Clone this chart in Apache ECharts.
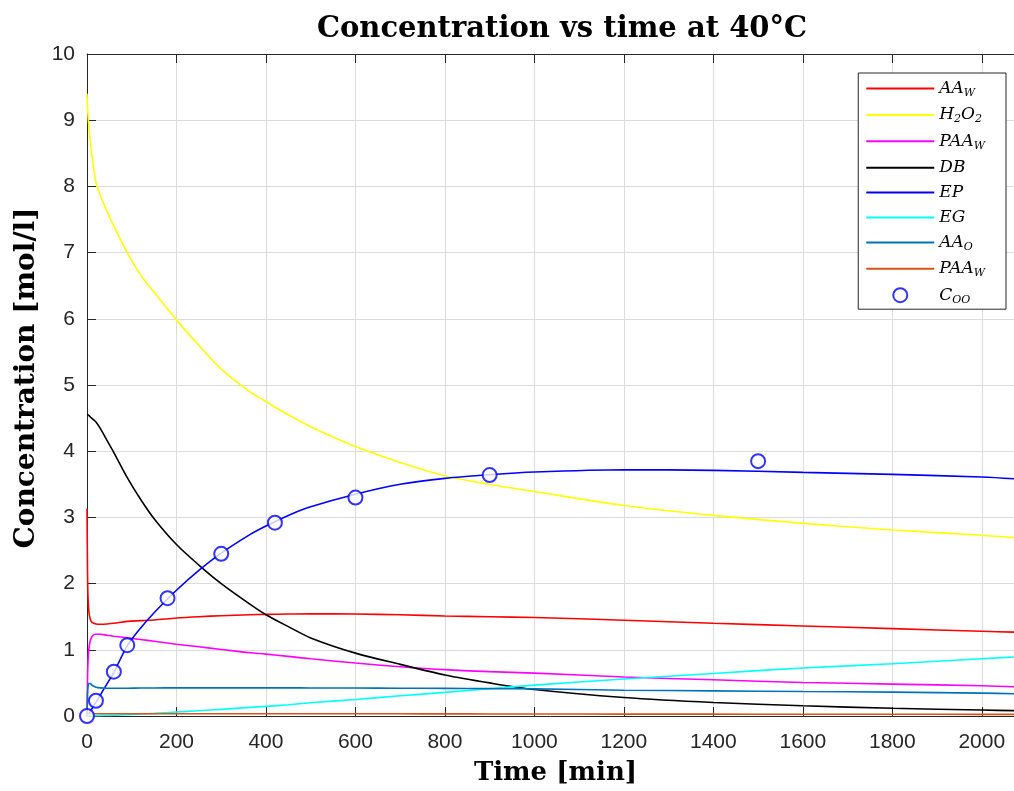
<!DOCTYPE html>
<html>
<head>
<meta charset="utf-8">
<script src="https://cdn.jsdelivr.net/npm/echarts@6/dist/echarts.min.js"></script>
<style>
  html, body { margin: 0; padding: 0; background: #fff; }
  #chart { width: 1014px; height: 791px; }
</style>
</head>
<body>
<div id="chart"></div>
<script>
// Time grid of the simulated profiles [min]
const time = [0, 1, 2, 4, 7, 12, 20, 30, 45, 60, 90, 120, 150, 200, 250, 300, 364, 400, 450, 500,
              600, 700, 800, 900, 1000, 1200, 1400, 1600, 1800, 2000, 2080];

// Simulated concentrations [mol/l]
const aaW   = [3.13, 2.30, 1.85, 1.59, 1.47, 1.41, 1.39, 1.385, 1.39, 1.40, 1.43, 1.44, 1.45, 1.48, 1.50, 1.515, 1.53, 1.535, 1.54, 1.545,
               1.54, 1.53, 1.51, 1.50, 1.487, 1.447, 1.40, 1.36, 1.32, 1.28, 1.265];
const h2o2  = [9.40, 9.24, 9.10, 8.92, 8.70, 8.42, 8.06, 7.86, 7.62, 7.40, 7.00, 6.66, 6.40, 5.98, 5.60, 5.24, 4.90, 4.75, 4.55, 4.37,
               4.07, 3.83, 3.63, 3.50, 3.39, 3.18, 3.03, 2.91, 2.81, 2.73, 2.69];
const paaW  = [0.00, 0.51, 0.78, 1.00, 1.13, 1.21, 1.236, 1.235, 1.22, 1.205, 1.18, 1.155, 1.13, 1.085, 1.045, 1.005, 0.955, 0.935, 0.90, 0.865,
               0.80, 0.745, 0.70, 0.67, 0.648, 0.59, 0.547, 0.507, 0.482, 0.457, 0.44];
const db    = [4.55, 4.55, 4.55, 4.54, 4.52, 4.49, 4.44, 4.34, 4.16, 3.98, 3.60, 3.27, 2.98, 2.59, 2.28, 2.00, 1.69, 1.53, 1.35, 1.18,
               0.95, 0.78, 0.62, 0.50, 0.40, 0.28, 0.205, 0.155, 0.116, 0.09, 0.08];
const ep    = [0.00, 0.01, 0.015, 0.035, 0.07, 0.12, 0.21, 0.32, 0.49, 0.66, 1.06, 1.33, 1.56, 1.90, 2.20, 2.46, 2.74, 2.87, 3.03, 3.16,
               3.35, 3.50, 3.59, 3.645, 3.685, 3.72, 3.71, 3.68, 3.65, 3.61, 3.58];
const eg    = [0.00, 0.00, 0.00, 0.00, 0.00, 0.001, 0.003, 0.005, 0.008, 0.012, 0.02, 0.03, 0.04, 0.06, 0.08, 0.10, 0.13, 0.145, 0.17, 0.20,
               0.25, 0.305, 0.357, 0.412, 0.467, 0.558, 0.643, 0.725, 0.79, 0.865, 0.894];
const aaO   = [0.00, 0.28, 0.42, 0.49, 0.49, 0.46, 0.435, 0.425, 0.42, 0.42, 0.42, 0.422, 0.424, 0.425, 0.425, 0.425, 0.425, 0.425, 0.425, 0.424,
               0.423, 0.42, 0.418, 0.414, 0.41, 0.39, 0.38, 0.37, 0.36, 0.345, 0.336];
const paaO  = [0.00, 0.02, 0.03, 0.035, 0.035, 0.035, 0.035, 0.035, 0.035, 0.035, 0.035, 0.035, 0.035, 0.035, 0.035, 0.035, 0.035, 0.035, 0.035, 0.035,
               0.034, 0.033, 0.032, 0.031, 0.03, 0.029, 0.028, 0.027, 0.026, 0.025, 0.025];

// Measured oxirane content
const cooTime  = [0, 20, 60, 90, 180, 300, 420, 600, 900, 1500];
const cooValue = [0, 0.23, 0.67, 1.07, 1.78, 2.45, 2.92, 3.30, 3.64, 3.85];

// Axis ticks
const xTicks = { min: 0, max: 2072, interval: 200 };
const yTicks = { min: 0, max: 10, interval: 1 };

const pair = (xs, ys) => xs.map((x, i) => [x, ys[i]]);

const lineDefs = [
  { name: 'AA_W',   data: aaW,  color: '#FF0000', label: '{m|AA}{s|W}' },
  { name: 'H2O2',   data: h2o2, color: '#FFFF00', label: '{m|H}{s|2}{m|O}{s|2}' },
  { name: 'PAA_W',  data: paaW, color: '#FF00FF', label: '{m|PAA}{s|W}' },
  { name: 'DB',     data: db,   color: '#000000', label: '{m|DB}' },
  { name: 'EP',     data: ep,   color: '#0000FF', label: '{m|EP}' },
  { name: 'EG',     data: eg,   color: '#00FFFF', label: '{m|EG}' },
  { name: 'AA_O',   data: aaO,  color: '#0072BD', label: '{m|AA}{s|O}' },
  { name: 'PAA_W2', data: paaO, color: '#D95319', label: '{m|PAA}{s|W}' }
];
const labelMap = {};
lineDefs.forEach(d => { labelMap[d.name] = d.label; });
labelMap['C_OO'] = '{m|C}{s|OO}';

const axisColor = '#262626';
const gridColor = '#dcdcdc';
const tickFont = 'Liberation Sans, Arial, sans-serif';
const mathFont = 'DejaVu Serif, Liberation Serif, serif';
const boldSerif = 'DejaVu Serif, Liberation Serif, serif';

const series = lineDefs.map(d => ({
  name: d.name,
  type: 'line',
  data: pair(time, d.data),
  showSymbol: false,
  symbol: 'none',
  smooth: 0.3,
  lineStyle: { color: d.color, width: 1.6 },
  itemStyle: { color: d.color },
  emphasis: { disabled: true },
  z: 3
}));
series.push({
  name: 'C_OO',
  type: 'scatter',
  data: pair(cooTime, cooValue),
  symbol: 'emptyCircle',
  symbolSize: 14,
  itemStyle: { color: '#0000FF', borderColor: '#0000FF', borderWidth: 2 },
  emphasis: { disabled: true },
  z: 5
});

// Legend entries: lines show only their stroke, the measurement shows its circle
const legendData = lineDefs.map(d => ({ name: d.name, itemStyle: { opacity: 0 } }))
  .concat([{ name: 'C_OO' }]);

const chart = echarts.init(document.getElementById('chart'), null, { renderer: 'canvas' });
chart.setOption({
  animation: false,
  backgroundColor: '#ffffff',
  title: {
    text: 'Concentration vs time at 40°C',
    left: 557,
    top: 10,
    textAlign: 'center',
    textStyle: { fontFamily: boldSerif, fontWeight: 'bold', fontSize: 29, color: '#000' }
  },
  grid: { left: 87, right: 0, top: 54, bottom: 74, containLabel: false },
  legend: {
    orient: 'vertical',
    right: 8,
    top: 73,
    itemWidth: 68,
    itemHeight: 14,
    itemGap: 7.9,
    padding: [7, 21, 4, 7],
    backgroundColor: '#ffffff',
    borderColor: axisColor,
    borderWidth: 1,
    borderRadius: 0,
    data: legendData,
    formatter: name => labelMap[name],
    textStyle: {
      rich: {
        m: { fontFamily: mathFont, fontStyle: 'italic', fontSize: 17, lineHeight: 20, color: '#000' },
        s: { fontFamily: mathFont, fontStyle: 'italic', fontSize: 11, lineHeight: 10, verticalAlign: 'bottom', color: '#000' }
      }
    }
  },
  xAxis: [{
    type: 'value',
    min: xTicks.min, max: xTicks.max, interval: xTicks.interval,
    name: 'Time [min]',
    nameLocation: 'middle',
    nameGap: 44,
    nameTextStyle: { fontFamily: boldSerif, fontWeight: 'bold', fontSize: 26, color: '#000', padding: [0, 0, 0, 10] },
    axisLine: { show: true, onZero: false, lineStyle: { color: axisColor, width: 1 } },
    axisTick: { show: true, inside: true, length: 9, lineStyle: { color: axisColor } },
    axisLabel: { showMaxLabel: false, margin: 16, fontFamily: tickFont, fontSize: 21, color: axisColor,
                 formatter: v => String(v) },
    splitLine: { show: true, lineStyle: { color: gridColor, width: 1 } }
  }, {
    type: 'value',
    position: 'top',
    min: xTicks.min, max: xTicks.max, interval: xTicks.interval,
    axisLine: { show: true, onZero: false, lineStyle: { color: axisColor, width: 1 } },
    axisTick: { show: true, inside: true, length: 9, lineStyle: { color: axisColor } },
    axisLabel: { show: false },
    splitLine: { show: false }
  }],
  yAxis: {
    type: 'value',
    min: yTicks.min, max: yTicks.max, interval: yTicks.interval,
    name: 'Concentration [mol/l]',
    nameLocation: 'middle',
    nameGap: 44,
    nameRotate: 90,
    nameTextStyle: { fontFamily: boldSerif, fontWeight: 'bold', fontSize: 28, color: '#000', padding: [0, 0, 0, 14] },
    axisLine: { show: true, onZero: false, lineStyle: { color: axisColor, width: 1 } },
    axisTick: { show: true, inside: true, length: 9, lineStyle: { color: axisColor } },
    axisLabel: { margin: 12, fontFamily: tickFont, fontSize: 21, color: axisColor },
    splitLine: { show: true, lineStyle: { color: gridColor, width: 1 } }
  },
  series: series
});
</script>
</body>
</html>
